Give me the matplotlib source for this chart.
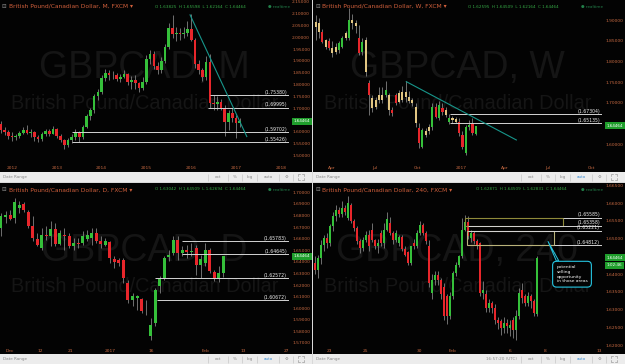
import matplotlib
matplotlib.use('Agg')
import matplotlib.pyplot as plt
from matplotlib.patches import Rectangle
import numpy as np

# ---------------- data ----------------
# monthly candles, index 0 = Jan 2012 (first candle Oct 2011)
m_idx = list(range(-3, 62))
m_open = [1.632, 1.607, 1.597, 1.583, 1.578, 1.581, 1.596, 1.609, 1.595, 1.599, 1.576, 1.567, 1.591,
          1.603, 1.590, 1.612, 1.582, 1.566, 1.545, 1.564, 1.578, 1.597, 1.578, 1.620, 1.667, 1.690,
          1.750, 1.770, 1.826, 1.850, 1.838, 1.840, 1.825, 1.830, 1.845, 1.812, 1.820, 1.805, 1.785,
          1.812, 1.910, 1.930, 1.880, 1.860, 1.900, 1.958, 2.040, 2.015, 2.020, 2.012, 2.020, 2.036,
          1.990, 1.885, 1.862, 1.833, 1.897, 1.720, 1.715, 1.725, 1.700, 1.642, 1.677, 1.656, 1.63825]
m_high = [1.645, 1.618, 1.606, 1.600, 1.592, 1.604, 1.618, 1.626, 1.610, 1.604, 1.585, 1.600, 1.612,
          1.612, 1.622, 1.617, 1.588, 1.570, 1.575, 1.590, 1.612, 1.603, 1.627, 1.675, 1.700, 1.760,
          1.780, 1.840, 1.865, 1.862, 1.858, 1.850, 1.845, 1.862, 1.850, 1.835, 1.840, 1.812, 1.830,
          1.925, 1.945, 1.940, 1.895, 1.915, 1.970, 2.060, 2.095, 2.045, 2.040, 2.045, 2.070, 2.100,
          1.995, 1.905, 1.870, 1.920, 1.930, 1.756, 1.750, 1.738, 1.712, 1.690, 1.700, 1.672, 1.65598]
m_low = [1.596, 1.585, 1.570, 1.560, 1.563, 1.575, 1.588, 1.590, 1.578, 1.560, 1.555, 1.560, 1.583,
         1.582, 1.588, 1.572, 1.555, 1.528, 1.535, 1.552, 1.564, 1.555, 1.570, 1.615, 1.650, 1.680,
         1.735, 1.760, 1.815, 1.820, 1.825, 1.815, 1.812, 1.826, 1.796, 1.780, 1.780, 1.770, 1.775,
         1.800, 1.885, 1.865, 1.845, 1.850, 1.890, 1.950, 1.995, 1.985, 1.990, 1.995, 2.005, 1.985,
         1.870, 1.845, 1.815, 1.820, 1.700, 1.690, 1.690, 1.690, 1.580, 1.607, 1.640, 1.574, 1.62164]
m_close = m_open[1:] + [1.64464]
m_close[-2] = 1.638

# weekly candles, index 0 = week of 3 Apr 2016 ('y' = yellow bar)
w_idx = list(range(-5, 44))
w_open = [1.884, 1.893, 1.872, 1.852, 1.850, 1.832, 1.836, 1.828, 1.836, 1.856, 1.856, 1.901, 1.893,
          1.857, 1.824, 1.852, 1.748, 1.711, 1.707, 1.719, 1.707, 1.719, 1.719, 1.683, 1.699, 1.723,
          1.707, 1.727, 1.715, 1.707, 1.691, 1.639, 1.594, 1.631, 1.631, 1.643, 1.691, 1.663, 1.687,
          1.683, 1.655, 1.663, 1.662, 1.655, 1.623, 1.578, 1.643, 1.651, 1.62595]
w_close = [1.897, 1.872, 1.848, 1.836, 1.832, 1.820, 1.824, 1.844, 1.856, 1.868, 1.901, 1.893, 1.885,
           1.820, 1.848, 1.776, 1.719, 1.687, 1.691, 1.707, 1.719, 1.731, 1.683, 1.675, 1.719, 1.703,
           1.727, 1.715, 1.705, 1.699, 1.651, 1.602, 1.635, 1.623, 1.643, 1.691, 1.667, 1.695, 1.679,
           1.671, 1.663, 1.659, 1.655, 1.627, 1.594, 1.643, 1.647, 1.627, 1.64464]
w_high = [1.913, 1.905, 1.880, 1.855, 1.856, 1.850, 1.845, 1.850, 1.862, 1.874, 1.929, 1.915, 1.900,
          1.888, 1.856, 1.860, 1.756, 1.719, 1.715, 1.739, 1.739, 1.752, 1.723, 1.690, 1.725, 1.731,
          1.742, 1.752, 1.728, 1.712, 1.699, 1.651, 1.640, 1.640, 1.650, 1.699, 1.699, 1.705, 1.699,
          1.690, 1.673, 1.668, 1.665, 1.663, 1.631, 1.647, 1.659, 1.663, 1.64509]
w_low = [1.852, 1.856, 1.845, 1.830, 1.828, 1.812, 1.818, 1.822, 1.832, 1.852, 1.852, 1.880, 1.870,
         1.815, 1.815, 1.764, 1.671, 1.679, 1.685, 1.699, 1.699, 1.715, 1.671, 1.668, 1.695, 1.699,
         1.703, 1.703, 1.699, 1.693, 1.643, 1.590, 1.590, 1.618, 1.625, 1.635, 1.663, 1.660, 1.672,
         1.665, 1.650, 1.652, 1.651, 1.620, 1.588, 1.574, 1.635, 1.622, 1.62164]
w_col = ['y', 'y', 'r', 'y', 'r', 'y', 'y', 'g', 'g', 'y', 'g', 'y', 'y', 'r', 'g', 'y', 'r', 'y', 'y',
         'y', 'y', 'g', 'y', 'r', 'r', 'y', 'y', 'y', 'y', 'y', 'y', 'r', 'g', 'y', 'y', 'g', 'r', 'g',
         'r', 'y', 'g', 'y', 'y', 'r', 'r', 'g', 'g', 'r', 'g']

# daily candles, index 0 = 29 Nov 2016
d_open = [1.6692, 1.6787, 1.6807, 1.6779, 1.6865, 1.6899, 1.6827, 1.6707, 1.6597, 1.6520, 1.6635,
          1.6626, 1.6687, 1.6554, 1.6632, 1.6620, 1.6534, 1.6563, 1.6563, 1.6597, 1.6606, 1.6649,
          1.6577, 1.6548, 1.6569, 1.6425, 1.6413, 1.6413, 1.6218, 1.6074, 1.6088, 1.6080, 1.5973,
          1.5758, 1.5873, 1.6189, 1.6261, 1.6442, 1.6477, 1.6586, 1.6477, 1.6505, 1.6485, 1.6520,
          1.6376, 1.6390, 1.6505, 1.6310, 1.6252, 1.63042]
d_close = [1.6793, 1.6807, 1.6773, 1.6917, 1.6894, 1.6845, 1.6707, 1.6606, 1.6548, 1.6635, 1.6620,
           1.6687, 1.6557, 1.6649, 1.6620, 1.6534, 1.6563, 1.6554, 1.6626, 1.6629, 1.6649, 1.6577,
           1.6554, 1.6583, 1.6433, 1.6396, 1.6390, 1.6261, 1.6074, 1.6103, 1.6103, 1.5979, 1.5979,
           1.5858, 1.6160, 1.6252, 1.6433, 1.6462, 1.6592, 1.6477, 1.6505, 1.6485, 1.6497, 1.6376,
           1.6425, 1.6505, 1.6318, 1.6252, 1.6304, 1.64464]
d_high = [1.6820, 1.6836, 1.6850, 1.6951, 1.6925, 1.6914, 1.6850, 1.6793, 1.6649, 1.6692, 1.6707,
          1.6750, 1.6735, 1.6678, 1.6692, 1.6649, 1.6606, 1.6606, 1.6664, 1.6678, 1.6692, 1.6692,
          1.6620, 1.6606, 1.6577, 1.6448, 1.6433, 1.6433, 1.6246, 1.6131, 1.6117, 1.6088, 1.6074,
          1.5916, 1.6175, 1.6275, 1.6448, 1.6505, 1.6620, 1.6620, 1.6534, 1.6548, 1.6563, 1.6548,
          1.6462, 1.6563, 1.6520, 1.6333, 1.6362, 1.64509]
d_low = [1.6620, 1.6735, 1.6764, 1.6735, 1.6820, 1.6827, 1.6692, 1.6577, 1.6534, 1.6505, 1.6592,
         1.6534, 1.6534, 1.6548, 1.6505, 1.6520, 1.6505, 1.6520, 1.6548, 1.6577, 1.6548, 1.6563,
         1.6520, 1.6534, 1.6390, 1.6347, 1.6362, 1.6218, 1.6045, 1.6016, 1.5988, 1.5959, 1.5945,
         1.5729, 1.5844, 1.6131, 1.6246, 1.6405, 1.6462, 1.6419, 1.6448, 1.6433, 1.6448, 1.6290,
         1.6261, 1.6362, 1.6304, 1.6232, 1.6223, 1.62694]

# 4-hour candles, index 0 = 23 Jan 2017 00:00
h_open = [1.6431, 1.6413, 1.6445, 1.6483, 1.6502, 1.6488, 1.6534, 1.6563, 1.6581, 1.6570, 1.6585,
          1.6558, 1.6595, 1.6549, 1.6530, 1.6492, 1.6474, 1.6497, 1.6511, 1.6525, 1.6497, 1.6478,
          1.6516, 1.6488, 1.6525, 1.6545, 1.6516, 1.6497, 1.6488, 1.6505, 1.6470, 1.6462, 1.6431,
          1.6488, 1.6478, 1.6516, 1.6539, 1.6516, 1.6480, 1.6347, 1.6385, 1.6399, 1.6385, 1.6365,
          1.6338, 1.6282, 1.6338, 1.6403, 1.6427, 1.6450, 1.6525, 1.6546, 1.6502, 1.6516, 1.6492,
          1.6488, 1.6347, 1.6343, 1.6305, 1.6319, 1.6305, 1.6272, 1.6268, 1.6249, 1.6263, 1.6250,
          1.6272, 1.6244, 1.6282, 1.6357, 1.6338, 1.6319, 1.6338, 1.6324, 1.62871]
h_close = [1.6413, 1.6445, 1.6483, 1.6502, 1.6488, 1.6534, 1.6563, 1.6581, 1.6570, 1.6585, 1.6575,
           1.6600, 1.6549, 1.6530, 1.6492, 1.6474, 1.6497, 1.6511, 1.6478, 1.6497, 1.6478, 1.6488,
           1.6488, 1.6525, 1.6555, 1.6516, 1.6497, 1.6516, 1.6505, 1.6470, 1.6455, 1.6431, 1.6478,
           1.6478, 1.6516, 1.6539, 1.6516, 1.6492, 1.6375, 1.6385, 1.6399, 1.6385, 1.6343, 1.6282,
           1.6282, 1.6338, 1.6403, 1.6427, 1.6450, 1.6525, 1.6546, 1.6506, 1.6516, 1.6492, 1.6483,
           1.6347, 1.6357, 1.6305, 1.6319, 1.6305, 1.6272, 1.6263, 1.6249, 1.6263, 1.6255, 1.6258,
           1.6244, 1.6282, 1.6347, 1.6333, 1.6319, 1.6338, 1.6324, 1.6291, 1.64464]
h_high = [1.6450, 1.6455, 1.6495, 1.6510, 1.6515, 1.6540, 1.6575, 1.6595, 1.6590, 1.6605, 1.6595,
          1.6619, 1.6600, 1.6555, 1.6535, 1.6500, 1.6505, 1.6520, 1.6525, 1.6545, 1.6500, 1.6500,
          1.6525, 1.6545, 1.6575, 1.6560, 1.6520, 1.6525, 1.6510, 1.6510, 1.6478, 1.6465, 1.6480,
          1.6500, 1.6525, 1.6550, 1.6545, 1.6520, 1.6495, 1.6400, 1.6410, 1.6410, 1.6390, 1.6375,
          1.6345, 1.6350, 1.6410, 1.6435, 1.6455, 1.6558, 1.6565, 1.6563, 1.6525, 1.6520, 1.6500,
          1.6490, 1.6380, 1.6357, 1.6330, 1.6325, 1.6315, 1.6280, 1.6275, 1.6280, 1.6275, 1.6270,
          1.6280, 1.6300, 1.6360, 1.6375, 1.6345, 1.6350, 1.6345, 1.6330, 1.64509]
h_low = [1.6400, 1.6390, 1.6430, 1.6465, 1.6475, 1.6480, 1.6520, 1.6550, 1.6560, 1.6560, 1.6565,
         1.6552, 1.6545, 1.6520, 1.6485, 1.6460, 1.6465, 1.6490, 1.6465, 1.6490, 1.6470, 1.6460,
         1.6478, 1.6475, 1.6520, 1.6510, 1.6485, 1.6490, 1.6480, 1.6465, 1.6450, 1.6425, 1.6425,
         1.6470, 1.6475, 1.6510, 1.6510, 1.6485, 1.6365, 1.6330, 1.6370, 1.6370, 1.6330, 1.6270,
         1.6260, 1.6275, 1.6330, 1.6395, 1.6420, 1.6445, 1.6520, 1.6500, 1.6490, 1.6485, 1.6470,
         1.6340, 1.6330, 1.6295, 1.6295, 1.6290, 1.6260, 1.6245, 1.6230, 1.6235, 1.6235, 1.6225,
         1.6220, 1.6216, 1.6275, 1.6320, 1.6310, 1.6310, 1.6305, 1.6283, 1.62831]

last_price = 1.64464

# ---------------- styling ----------------
W, H = 625, 364
BG = '#030303'
GREEN = '#35c03a'
RED = '#e8262b'
YELLOW = '#e2c682'
WICK = '#8d8d8d'
AXTXT = '#c86a42'
HDR = '#d2603c'
TEAL = '#17968b'
LVL = '#d4d4d4'

fig = plt.figure(figsize=(6.25, 3.64), dpi=100)
fig.patch.set_facecolor('#d9d9d9')


def frac(x, y, w, h):
    return [x / W, 1 - (y + h) / H, w / W, h / H]


def fx(x, y):
    return x / W, 1 - y / H


def candles(ax, x, o, h, l, c, width, cols, dy):
    o, h, l, c = map(np.asarray, (o, h, l, c))
    ax.vlines(x, l, h, color=WICK, lw=0.55, zorder=2)
    bot = np.minimum(o, c)
    hgt = np.maximum(np.abs(c - o), dy)
    ax.bar(x, hgt, width, bot, color=cols, linewidth=0, zorder=3)


def panel(px, py, pw, ph, tf, ohlc, xlim, ylim, xt, xtl, yt):
    # black background for the whole panel
    bg = fig.add_axes(frac(px, py, pw, ph - 10))
    bg.set_facecolor(BG)
    bg.set_xticks([]); bg.set_yticks([])
    for s in bg.spines.values():
        s.set_visible(False)

    ax = fig.add_axes(frac(px, py, 289, 163))
    ax.set_facecolor(BG)
    for s in ax.spines.values():
        s.set_visible(False)
    ax.set_xlim(*xlim)
    ax.set_ylim(*ylim)
    ax.yaxis.tick_right()
    ax.set_yticks(yt)
    ax.set_yticklabels([f'{v:.5f}' for v in yt])
    ax.set_xticks(xt)
    ax.set_xticklabels(xtl)
    ax.tick_params(length=0, labelsize=3.2, colors=AXTXT, pad=2.2)

    # watermark
    ax.text(0.5, 0.585, f'GBPCAD, {tf}', transform=ax.transAxes, ha='center', va='center',
            fontsize=27, color='#151515', family='Liberation Sans', zorder=0)
    ax.text(0.5, 0.365, 'British Pound/Canadian Dollar', transform=ax.transAxes, ha='center',
            va='center', fontsize=14.3, color='#151515', family='Liberation Sans', zorder=0)

    # header
    fig.text(*fx(px + 2, py + 6.5), '⊟', fontsize=4, color='#888888', va='center')
    fig.text(*fx(px + 9, py + 6.5), f'British Pound/Canadian Dollar, {tf}, FXCM ▾',
             fontsize=4.3, color=HDR, va='center')
    fig.text(*fx(px + 163 if tf == '240' else px + 155, py + 6.5), ohlc,
             fontsize=3.0, color='#35a845', va='center')
    fig.text(*fx(px + 268, py + 6.5), '● realtime', fontsize=3.0, color='#22804a', va='center')

    # price tag
    ax.annotate(f'{last_price:.5f}', xy=(1.0, last_price), xycoords=('axes fraction', 'data'),
                xytext=(3.5, 0), textcoords='offset points', ha='left', va='center',
                fontsize=3.0, color='white', zorder=10, annotation_clip=False,
                bbox=dict(boxstyle='square,pad=0.35', fc='#1f9e2c', ec='none'))

    # bottom bar
    bar = fig.add_axes(frac(px, py + ph - 10, pw, 10))
    bar.set_facecolor('#ececec')
    bar.set_xlim(0, pw); bar.set_ylim(0, 10)
    bar.set_xticks([]); bar.set_yticks([])
    for s in bar.spines.values():
        s.set_visible(False)
    bar.text(3, 5, 'Date Range', fontsize=3.0, color='#8a8a8a', va='center')
    for xs in [208, 228, 242, 257, 279, 293]:
        bar.vlines(xs, 1.5, 8.5, color='#c8c8c8', lw=0.5)
    for xs, s in [(218, 'ext'), (235, '%'), (249.5, 'log'), (268, 'auto'), (286, '⚙')]:
        col = '#3d8fd6' if s == 'auto' and tf != 'M' else '#8a8a8a'
        bar.text(xs, 5, s, fontsize=3.0, color=col, va='center', ha='center')
    # fullscreen icon drawn as four little corner marks
    for sx in (-1, 1):
        for sy in (-1, 1):
            bar.plot([301 + sx * 1.2, 301 + sx * 2.6, 301 + sx * 2.6],
                     [5 + sy * 2.6, 5 + sy * 2.6, 5 + sy * 1.2], color='#8a8a8a', lw=0.4)
    if tf == '240':
        bar.text(188, 5, '16:57:20 (UTC)', fontsize=3.0, color='#8a8a8a', va='center', ha='center')
    return ax


def level(ax, y, x0, xr):
    ax.hlines(y, x0, xr, color=LVL, lw=0.7, zorder=4)
    ax.annotate(f'({y:.5f})', xy=(0.993, y), xycoords=('axes fraction', 'data'),
                xytext=(0, 0.4), textcoords='offset points', ha='right', va='bottom',
                fontsize=3.3, color='#eeeeee', zorder=5)


# ---------------- monthly ----------------
xl = (-3.21, 74.2)
ax = panel(0, 0, 312, 182, 'M', 'O 1.63825  H 1.65598  L 1.62164  C 1.64464', xl, (1.467, 2.158),
           list(range(0, 73, 12)), ['2012', '2013', '2014', '2015', '2016', '2017', '2018'],
           [1.50, 1.55, 1.60, 1.70, 1.75, 1.80, 1.85, 1.90, 1.95, 2.00, 2.05, 2.10, 2.15])
cols = [GREEN if c >= o else RED for o, c in zip(m_open, m_close)]
candles(ax, m_idx, m_open, m_high, m_low, m_close, 0.72, cols, 0.004)
for y, x0 in [(1.75380, 53), (1.69995, 52.6), (1.59702, 16), (1.55426, 16)]:
    level(ax, y, x0, xl[1])
ax.plot([47.7, 62.9], [2.095, 1.579], color=TEAL, lw=0.8, zorder=4)

# ---------------- weekly ----------------
xl = (-5.8, 80.9)
ax = panel(313, 0, 312, 182, 'W', 'O 1.62595  H 1.64509  L 1.62164  C 1.64464', xl, (1.5548, 1.949),
           [-0.3, 12.7, 25.7, 38.7, 51.7, 64.7, 77.7], ['Apr', 'Jul', 'Oct', '2017', 'Apr', 'Jul', 'Oct'],
           [1.60, 1.70, 1.75, 1.80, 1.85, 1.90])
cmap = {'g': GREEN, 'r': RED, 'y': YELLOW}
candles(ax, w_idx, w_open, w_high, w_low, w_close, 0.7, [cmap[k] for k in w_col], 0.002)
for y in [1.67304, 1.65135]:
    level(ax, y, 35.2, xl[1])
ax.plot([22.2, 55.2], [1.7515, 1.6105], color=TEAL, lw=0.8, zorder=4)

# ---------------- daily ----------------
xl = (-0.22, 63.5)
ax = panel(0, 183, 312, 181, 'D', 'O 1.63042  H 1.64509  L 1.62694  C 1.64464', xl, (1.5674, 1.70805),
           [2, 8.6, 15.2, 24.0, 33.2, 45.0, 53.5, 63.0], ['Dec', '12', '21', '2017', '16', 'Feb', '13', '27'],
           np.arange(1.57, 1.7001, 0.01))
d_idx = list(range(len(d_open)))
cols = [GREEN if c >= o else RED for o, c in zip(d_open, d_close)]
candles(ax, d_idx, d_open, d_high, d_low, d_close, 0.66, cols, 0.0007)
for y, x0 in [(1.65783, 39.9), (1.64645, 39.9), (1.62572, 34.0), (1.60672, 34.3)]:
    level(ax, y, x0, xl[1])

# ---------------- 4 hour ----------------
xl = (-5.56, 90.8)
ax = panel(313, 183, 312, 181, '240', 'O 1.62871  H 1.64509  L 1.62831  C 1.64464', xl, (1.61983, 1.66562),
           [0, 12, 30, 41, 60, 72, 90], ['23', '25', '30', 'Feb', '6', '8', '13'],
           [1.620, 1.625, 1.630, 1.635, 1.640, 1.650, 1.655, 1.660, 1.665])
h_idx = list(range(-5, -5 + len(h_open)))
cols = [GREEN if c >= o else RED for o, c in zip(h_open, h_close)]
candles(ax, h_idx, h_open, h_high, h_low, h_close, 0.65, cols, 0.00025)
ax.add_patch(Rectangle((45, 1.65358), 32.8, 1.65585 - 1.65358, fill=False, ec='#8f8a3a', lw=0.8, zorder=4))
ax.add_patch(Rectangle((45.8, 1.64812), 28.9, 1.65221 - 1.64812, fill=False, ec='#b9b27a', lw=0.8, zorder=4))
for y, x0 in [(1.65585, 77.8), (1.65358, 46), (1.65221, 46), (1.64812, 74.7)]:
    level(ax, y, x0, xl[1])
ax.annotate('potential\nselling\nopportunity\nin those areas', xy=(72.8, 1.6492),
            xytext=(80.8, 1.6400), textcoords='data', ha='center', va='center', multialignment='left',
            fontsize=3.2, color='white', zorder=6,
            bbox=dict(boxstyle='round,pad=0.9', fc=BG, ec='#26c6e2', lw=0.8),
            arrowprops=dict(arrowstyle='wedge,tail_width=0.5', fc=BG, ec='#26c6e2', lw=0.7,
                            shrinkA=0, shrinkB=0, relpos=(0.1, 1.0)))
ax.annotate('1:02:46', xy=(1.0, 1.6425), xycoords=('axes fraction', 'data'),
            xytext=(3.5, 0), textcoords='offset points', ha='left', va='center',
            fontsize=3.0, color='white', zorder=10, annotation_clip=False,
            bbox=dict(boxstyle='square,pad=0.35', fc='#1f9e2c', ec='none'))

fig.savefig('out.png', dpi=100, facecolor=fig.get_facecolor())
